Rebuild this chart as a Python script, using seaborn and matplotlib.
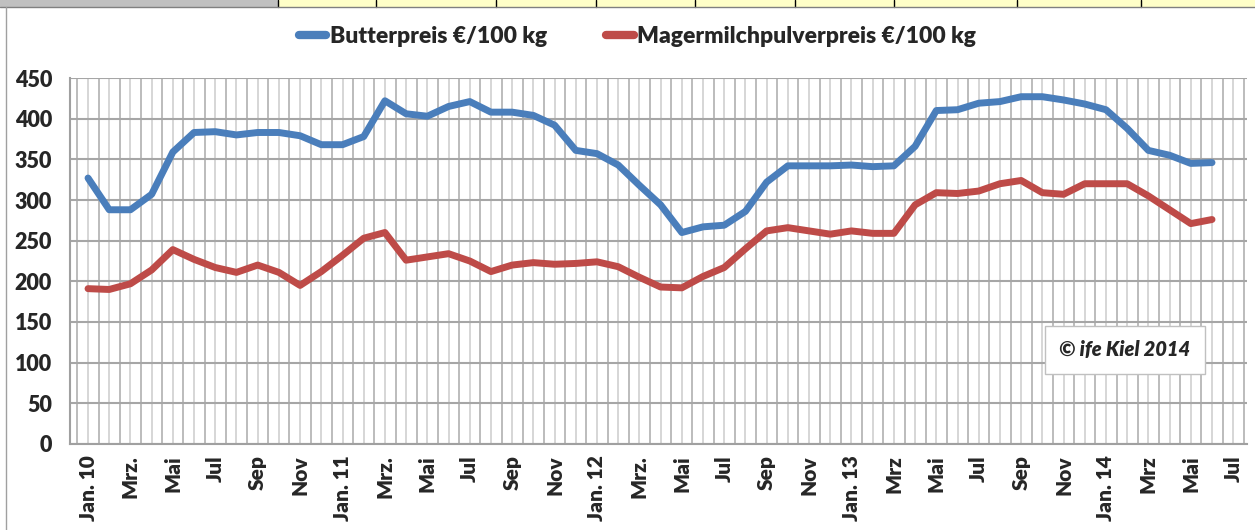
import numpy as np
import pandas as pd
import matplotlib
matplotlib.use("Agg")
import matplotlib.pyplot as plt
from matplotlib.patches import Rectangle
import seaborn as sns

# Monatswerte Jan. 2010 bis Jun. 2014
butter = [327, 288, 288, 307, 359, 383, 384, 380, 383, 383, 379, 368,
          368, 378, 422, 406, 403, 415, 421, 408, 408, 404, 392, 361,
          357, 343, 318, 294, 260, 267, 269, 286, 322, 342, 342, 342,
          343, 341, 342, 366, 410, 411, 419, 421, 427, 427, 423, 418,
          411, 388, 361, 355, 345, 346]
magermilch = [191, 190, 197, 214, 239, 227, 217, 211, 220, 211, 195, 212,
              232, 253, 260, 226, 230, 234, 225, 212, 220, 223, 221, 222,
              224, 218, 205, 193, 192, 206, 217, 240, 262, 266, 262, 258,
              262, 259, 259, 294, 309, 308, 311, 320, 324, 309, 307, 320,
              320, 320, 305, 288, 271, 276]
tick_labels = ["Jan. 10", "Mrz.", "Mai", "Jul", "Sep", "Nov",
               "Jan. 11", "Mrz.", "Mai", "Jul", "Sep", "Nov",
               "Jan. 12", "Mrz.", "Mai", "Jul", "Sep", "Nov",
               "Jan. 13", "Mrz", "Mai", "Jul", "Sep", "Nov",
               "Jan. 14", "Mrz", "Mai", "Jul"]
series_names = ["Butterpreis €/100 kg", "Magermilchpulverpreis €/100 kg"]
colors = ["#4A7EBB", "#BE4B48"]

n_months = 55
df = pd.DataFrame({
    "monat": list(range(len(butter))) * 2,
    "preis": butter + magermilch,
    "serie": [series_names[0]] * len(butter) + [series_names[1]] * len(magermilch),
})

sns.set_style("white")
plt.rcParams["font.family"] = ["Lato", "DejaVu Sans"]

W, H = 1255, 530
fig = plt.figure(figsize=(W / 100, H / 100), dpi=100)
ax = fig.add_axes([70 / W, 1 - 444 / H, (1247 - 70) / W, (444 - 78) / H])

sns.lineplot(data=df, x="monat", y="preis", hue="serie", palette=colors,
             linewidth=5, ax=ax, legend=False, zorder=3,
             solid_capstyle="round", solid_joinstyle="round")

ax.set_xlim(-0.85, n_months - 0.35)
ax.set_ylim(0, 450)
ax.set_yticks(np.arange(0, 451, 50))
ax.set_yticklabels([str(v) for v in range(0, 451, 50)],
                   fontsize=15.5, fontweight="heavy")

major = np.arange(n_months)
ax.set_xticks(major)
ax.set_xticklabels([tick_labels[i // 2] if i % 2 == 0 else "" for i in major],
                   rotation=90, fontsize=15, fontweight="heavy")
ax.set_xticks(np.arange(n_months + 1) - 0.5, minor=True)
ax.tick_params(axis="x", which="major", length=0, pad=8)
ax.tick_params(axis="x", which="minor", length=5, color="#a0a0a0", width=1)
ax.tick_params(axis="y", length=0, pad=13)

ax.grid(axis="y", which="major", color="#a6a6a6", linewidth=1.5)
ax.grid(axis="x", which="major", color="#d0d0d0", linewidth=1.2)
ax.grid(axis="x", which="minor", color="#b0b0b0", linewidth=1.2)
ax.set_axisbelow(True)

for side in ["top", "right"]:
    ax.spines[side].set_visible(False)
for side in ["left", "bottom"]:
    ax.spines[side].set_color("#a0a0a0")
    ax.spines[side].set_linewidth(1.5)

ax.set_xlabel("")
ax.set_ylabel("")

# Legende oben
handles = [plt.Line2D([], [], color=c, linewidth=6, solid_capstyle="round")
           for c in colors]
fig.legend(handles, series_names, loc="center", bbox_to_anchor=(0.508, 0.932),
           ncol=2, frameon=False, handlelength=1.2, handletextpad=0.15,
           columnspacing=2.6, prop={"size": 16.5, "weight": "heavy"})

# Copyright-Kasten
fig.text(1125 / W, 1 - 350 / H, "© ife Kiel 2014", ha="center", va="center",
         fontsize=14.5, fontweight="heavy", style="italic",
         bbox=dict(boxstyle="square,pad=0.7", facecolor="white",
                   edgecolor="#c0c0c0", linewidth=1))

# Reste der Tabelle oberhalb des Diagramms
fig.patches.append(Rectangle((0, 1 - 7 / H), 278 / W, 7 / H, transform=fig.transFigure,
                             facecolor="#c0c0c0", edgecolor="none"))
fig.patches.append(Rectangle((278 / W, 1 - 7 / H), 1 - 278 / W, 7 / H,
                             transform=fig.transFigure,
                             facecolor="#ffffc8", edgecolor="none"))
for xe in [278, 376, 496, 596, 695, 795, 894, 1017, 1141]:
    fig.lines.append(plt.Line2D([xe / W, xe / W], [1 - 7 / H, 1.0],
                                transform=fig.transFigure, color="black", linewidth=1))
fig.lines.append(plt.Line2D([0, 1], [1 - 7 / H, 1 - 7 / H], transform=fig.transFigure,
                            color="#808080", linewidth=1))
fig.lines.append(plt.Line2D([6 / W, 6 / W], [0, 1 - 7 / H], transform=fig.transFigure,
                            color="#a0a0a0", linewidth=1))

fig.savefig("out.png", dpi=100)
